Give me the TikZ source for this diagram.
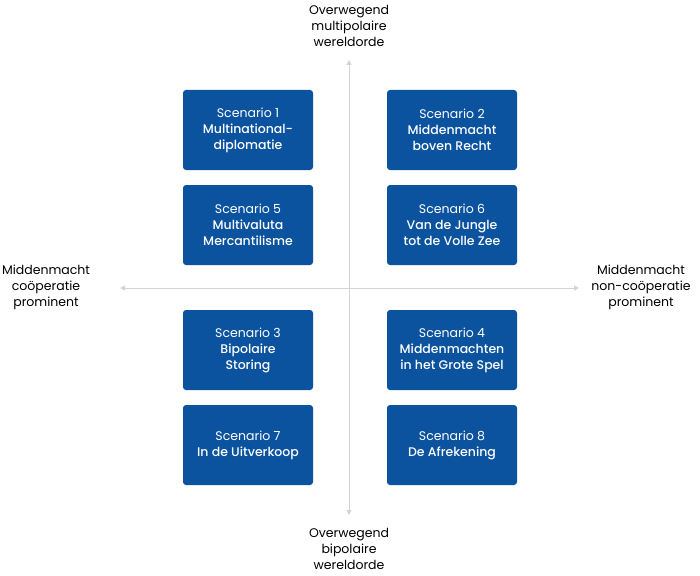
\documentclass[tikz,border=0pt]{standalone}
\usepackage{fontspec}
\setmainfont{Poppins}[BoldFont={Poppins Medium}]
\usetikzlibrary{arrows.meta}
\definecolor{boxblue}{HTML}{0B539F}
\definecolor{axisgray}{HTML}{D4D4D4}
\begin{document}
\begin{tikzpicture}[x=1pt,y=-1pt,
  scenbox/.style={fill=boxblue,rounded corners=3pt,minimum width=130pt,minimum height=80pt,
    inner sep=0pt,text=white,align=center,font=\fontsize{12.5}{16}\selectfont},
  axislabel/.style={align=center,text=black,font=\fontsize{12.5}{16}\selectfont},
  axisline/.style={draw=axisgray,line width=1pt,{Triangle[length=5pt,width=5pt]}-{Triangle[length=5pt,width=5pt]}}]
\useasboundingbox (0,0) rectangle (700,575);
\coordinate (top) at (349,60);
\coordinate (bot) at (349,515);
\coordinate (lft) at (120,288);
\coordinate (rgt) at (579,288);
\draw[axisline] (bot) -- (top);
\draw[axisline] (lft) -- (rgt);
\node[scenbox] (s1) at (248,130) {Scenario 1\\\bfseries Multinational-\\\bfseries diplomatie};
\node[scenbox] (s2) at (452,130) {Scenario 2\\\bfseries Middenmacht\\\bfseries boven Recht};
\node[scenbox] (s5) at (248,225) {Scenario 5\\\bfseries Multivaluta\\\bfseries Mercantilisme};
\node[scenbox] (s6) at (452,225) {Scenario 6\\\bfseries Van de Jungle\\\bfseries tot de Volle Zee};
\node[scenbox] (s3) at (248,350) {Scenario 3\\\bfseries Bipolaire\\\bfseries Storing};
\node[scenbox] (s4) at (452,350) {Scenario 4\\\bfseries Middenmachten\\\bfseries in het Grote Spel};
\node[scenbox] (s7) at (248,445) {Scenario 7\\\bfseries In de Uitverkoop};
\node[scenbox] (s8) at (452,445) {Scenario 8\\\bfseries De Afrekening};
\node[axislabel] (ltop) at (349,26) {Overwegend\\multipolaire\\wereldorde};
\node[axislabel] (lbot) at (349,549) {Overwegend\\bipolaire\\wereldorde};
\node[axislabel] (llft) at (46,287) {Middenmacht\\coöperatie\\prominent};
\node[axislabel] (lrgt) at (641,287) {Middenmacht\\non-coöperatie\\prominent};
\end{tikzpicture}
\end{document}
